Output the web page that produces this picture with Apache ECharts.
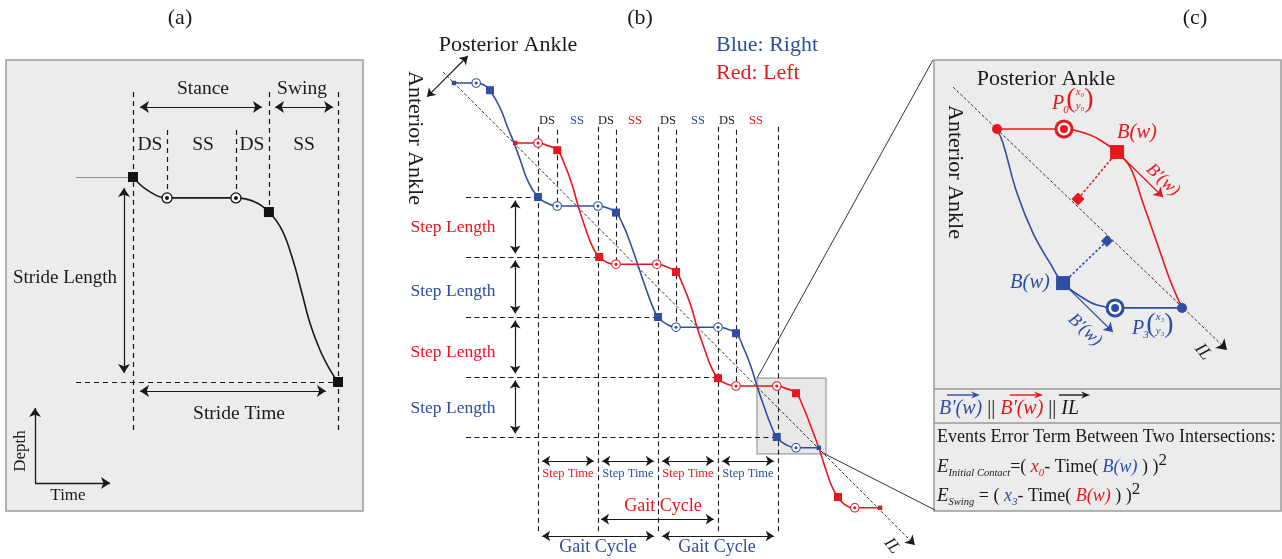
<!DOCTYPE html>
<html><head><meta charset="utf-8">
<script src="https://cdn.jsdelivr.net/npm/echarts@6/dist/echarts.min.js"></script>
<style>html,body{margin:0;background:#fff}#c{width:1282px;height:559px}</style>
</head><body><div id="c"></div>
<script>
// ================= DATA =================
// Panel (a): one stride, time in stride-time units, depth in stride-length units
const aCurve = [[0,0],[0.068,0.063],[0.166,0.102],[0.502,0.102],[0.595,0.122],[0.663,0.171],[0.727,0.259],[0.78,0.405],[0.824,0.566],[0.863,0.712],[0.912,0.844],[0.961,0.941],[1,1]];
const aSquares = [[0,0],[0.663,0.171],[1,1]];
const aCircles = [[0.166,0.102],[0.502,0.102]];
const aEventTimes = [0, 0.166, 0.502, 0.663, 1];
const aGuideTop = [-0.415, -0.229, -0.229, -0.415, -0.415];
const aGuideBottom = [1.244, 0.102, 0.102, 0.171, 1.244];

// Panel (b): both ankles, time in step units, depth in step-length units
const blueCurve = [[-1.40,-1.90],[-1.03,-1.90],[-0.89,-1.86],[-0.80,-1.78],[-0.63,-1.48],[-0.51,-1.17],[-0.40,-0.90],[-0.29,-0.60],[-0.17,-0.27],[0,0],[0.15,0.10],[0.32,0.15],[1.00,0.15],[1.15,0.18],[1.30,0.26],[1.42,0.47],[1.55,0.80],[1.66,1.12],[1.78,1.47],[1.90,1.80],[2.00,2.00],[2.13,2.11],[2.30,2.17],[3.00,2.17],[3.15,2.20],[3.30,2.27],[3.42,2.50],[3.55,2.83],[3.65,3.15],[3.77,3.50],[3.89,3.82],[3.98,4.00],[4.12,4.12],[4.30,4.18],[4.68,4.18]];
const redCurve = [[-0.38,-0.90],[0,-0.90],[0.15,-0.86],[0.32,-0.78],[0.44,-0.55],[0.57,-0.20],[0.67,0.15],[0.79,0.52],[0.91,0.83],[1.02,1.00],[1.15,1.09],[1.30,1.12],[1.98,1.12],[2.13,1.16],[2.30,1.25],[2.42,1.48],[2.55,1.82],[2.65,2.17],[2.77,2.52],[2.89,2.84],[3.00,3.02],[3.13,3.11],[3.30,3.15],[3.98,3.15],[4.13,3.19],[4.30,3.27],[4.42,3.50],[4.55,3.83],[4.68,4.18],[4.79,4.52],[4.90,4.83],[5.00,5.00],[5.12,5.13],[5.28,5.18],[5.70,5.18]];
const blueSquares = [[-0.80,-1.78],[0,0],[1.30,0.26],[2.00,2.00],[3.30,2.27],[3.98,4.00]];
const blueCircles = [[-1.03,-1.90],[0.32,0.15],[1.00,0.15],[2.30,2.17],[3.00,2.17],[4.30,4.18]];
const blueEnds = [[-1.40,-1.90],[4.68,4.18]];
const redSquares = [[0.32,-0.78],[1.02,1.00],[2.30,1.25],[3.00,3.02],[4.30,3.27],[5.00,5.00]];
const redCircles = [[0,-0.90],[1.30,1.12],[1.98,1.12],[3.30,3.15],[3.98,3.15],[5.28,5.18]];
const redEnds = [[-0.38,-0.90],[5.70,5.18]];
const stepEventTimes = [0, 1, 2, 3, 4];
const stepLevels = [0, 1, 2, 3, 4];
const stepLevelEnds = [0, 1.02, 2.0, 3.0, 3.98];
const singleSupportStart = [0.32, 1.30, 2.30, 3.30];
const singleSupportDepth = [0.15, 1.12, 2.17, 3.15];
const phaseLabels = ['DS','SS','DS','SS','DS','SS','DS','SS'];
const stepLengthLabels = ['Step Length','Step Length','Step Length','Step Length'];
const stepTimeLabels = ['Step Time','Step Time','Step Time','Step Time'];
const ilLine = [[-1.58,-2.08],[6.28,5.80]];
const zoomWindow = [[3.65,3.02],[4.80,4.28]];

// Panel (c): zoom on one intersection window (same units as b, magnified)
const cRed = [[3.65,3.15],[4.022,3.15],[4.167,3.183],[4.239,3.222],[4.317,3.278],[4.389,3.361],[4.461,3.561],[4.539,3.783],[4.611,3.989],[4.678,4.144]];
const cBlue = [[3.65,3.15],[3.683,3.228],[3.761,3.506],[3.85,3.728],[3.944,3.894],[4.017,4.006],[4.128,4.089],[4.206,4.128],[4.306,4.144],[4.678,4.144]];
const cRedDot = [[3.65,3.15]], cRedP0 = [[4.022,3.15]], cRedB = [[4.317,3.278]], cRedFoot = [[4.1,3.539]];
const cBlueDot = [[4.678,4.144]], cBlueP3 = [[4.306,4.144]], cBlueB = [[4.017,4.006]], cBlueFoot = [[4.261,3.772]];
const cRedTangent = [[4.317,3.278],[4.572,3.528]];
const cBlueTangent = [[4.017,4.006],[4.294,4.278]];
const cIL = [[3.406,2.917],[4.928,4.378]];

// ================= STYLE / HELPERS =================
const CB = '#2D4EA2', CR = '#E8161E', CK = '#1a1a1a';
const SERIF = '"Liberation Serif","Times New Roman",serif';
const segs = list => list.map(c => ({coords: c}));
function L(gi, list, color, width, type, sym, symSize, z) {
  return {type:'lines', coordinateSystem:'cartesian2d', xAxisIndex:gi, yAxisIndex:gi, silent:true, clip:false,
    data: segs(list), symbol: sym || 'none', symbolSize: symSize || 8, z: z || 2,
    lineStyle:{color: color, width: width, type: type || 'solid', opacity: 1, curveness: 0}};
}
function C(gi, data, color, width, sm) {
  return {type:'line', xAxisIndex:gi, yAxisIndex:gi, data: data, showSymbol:false, symbol:'none', silent:true,
    smooth: sm || 0.5, lineStyle:{color: color, width: width}, z: 3, animation:false};
}
function P(gi, data, symbol, size, color, z, border, bw) {
  return {type:'scatter', xAxisIndex:gi, yAxisIndex:gi, data: data, symbol: symbol, symbolSize: size, silent:true, z: z || 5,
    itemStyle:{color: color, borderColor: border || color, borderWidth: bw || 0, opacity:1}};
}
function ring(gi, data, color, outer, inner, bw) {
  return [P(gi, data, 'circle', outer, '#fff', 6, color, bw), P(gi, data, 'circle', inner, color, 7)];
}
function T(text, x, y, size, color, o) {
  o = o || {};
  return {type:'text', x:x, y:y, rotation: o.rot || 0, z:100,
    style:{text:text, x:0, y:0, fill: color || CK, font: (o.italic ? 'italic ' : '') + size + 'px ' + SERIF,
      align: o.align || 'center', verticalAlign: 'middle'}};
}
function vec(x1, x2, y, color) {
  return [{type:'line', z:100, shape:{x1:x1, y1:y, x2:x2-5, y2:y}, style:{stroke:color, lineWidth:1.4}},
          {type:'polygon', z:100, shape:{points:[[x2,y],[x2-9,y-3.5],[x2-6,y],[x2-9,y+3.5]]}, style:{fill:color}}];
}

// ---- guide geometry built from the data ----
const aGuides = aEventTimes.map((t,i) => [[t, aGuideTop[i]], [t, aGuideBottom[i]]]);
const bLongV = stepEventTimes.map(t => [[t,-1.17],[t,5.58]]);
const bShortV = singleSupportStart.map((t,i) => [[t,-1.12],[t,singleSupportDepth[i]]]);
const bH = stepLevels.map((d,i) => [[-1.2,d],[stepLevelEnds[i],d]]);
const bStepLenArrows = stepLevels.slice(0,4).map(d => [[-0.38,d+0.06],[-0.38,d+0.94]]);
const bStepTimeArrows = stepEventTimes.slice(0,4).map(t => [[t+0.07,4.4],[t+0.93,4.4]]);
const bGaitBlue = [[[0.07,5.65],[1.93,5.65]],[[2.07,5.65],[3.93,5.65]]];
const bGaitRed = [[[1.05,5.37],[2.93,5.37]]];
const connectors = [[[3.65,3.02],[6.583,-2.283]],[[4.75,4.267],[6.617,5.217]]];

const series = [
  // ----- (a)
  L(0, [[[-0.278,0],[0,0]]], '#777', 0.8),
  L(0, [[[-0.278,1],[1,1]]], CK, 1.2, [5,4]),
  L(0, aGuides, CK, 1.2, [5,4]),
  L(0, [[[0.034,-0.341],[0.629,-0.341]],[[0.693,-0.341],[0.976,-0.341]],[[-0.044,0.054],[-0.044,0.956]],[[0.034,1.044],[0.941,1.044]]], CK, 1.2, 'solid', ['arrow','arrow'], 9),
  L(0, [[[-0.478,1.493],[-0.478,1.127]],[[-0.478,1.493],[-0.112,1.493]]], CK, 1.3, 'solid', ['none','arrow'], 9),
  C(0, aCurve, CK, 1.6, 0.4),
  P(0, aSquares, 'rect', 10, '#111', 6),
  ...ring(0, aCircles, '#111', 10, 4, 1.3),
  // ----- (b)
  {type:'line', xAxisIndex:1, yAxisIndex:1, data:[], silent:true, z:1,
   markArea:{silent:true, itemStyle:{color:'#e8e8e8', borderColor:'#9a9a9a', borderWidth:1.2},
     data:[[{coord: zoomWindow[0]},{coord: zoomWindow[1]}]]}},
  L(1, bLongV, CK, 1.1, [5,3.5]),
  L(1, bShortV, CK, 1.1, [5,3.5]),
  L(1, bH, CK, 1.1, [5,3.5]),
  L(1, [ilLine], CK, 0.9, [3,2], ['none','arrow'], 9, 2),
  L(1, connectors, CK, 0.9),
  L(1, bStepLenArrows.concat(bStepTimeArrows, bGaitBlue, bGaitRed), CK, 1.2, 'solid', ['arrow','arrow'], 8),
  L(1, [[[-1.85,-1.67],[-1.17,-2.35]]], CK, 1.1, 'solid', ['arrow','arrow'], 8),
  C(1, blueCurve, CB, 1.6),
  C(1, redCurve, CR, 1.6),
  P(1, blueSquares, 'rect', 8, CB, 5),
  P(1, redSquares, 'rect', 8, CR, 5),
  P(1, blueEnds, 'rect', 4.5, CB, 5),
  P(1, redEnds, 'rect', 4.5, CR, 5),
  ...ring(1, blueCircles, CB, 8.5, 3, 1.1),
  ...ring(1, redCircles, CR, 8.5, 3, 1.1),
  // ----- (c)
  L(2, [cIL], CK, 0.9, [3,2], ['none','arrow'], 10),
  L(2, [[cRedB[0], cRedFoot[0]]], CR, 1.6, [2.5,2]),
  L(2, [[cBlueB[0], cBlueFoot[0]]], CB, 1.6, [2.5,2]),
  L(2, [cRedTangent], CR, 1.2, 'solid', ['none','arrow'], 9),
  L(2, [cBlueTangent], CB, 1.2, 'solid', ['none','arrow'], 9),
  C(2, cRed, CR, 1.6, 0.4),
  C(2, cBlue, CB, 1.6, 0.4),
  P(2, cRedDot, 'circle', 10, CR, 5),
  P(2, cBlueDot, 'circle', 10, CB, 5),
  P(2, cRedB, 'rect', 14, CR, 5),
  P(2, cBlueB, 'rect', 14, CB, 5),
  P(2, cRedFoot, 'diamond', 13, CR, 5),
  P(2, cBlueFoot, 'diamond', 12, CB, 5),
  P(2, cRedP0, 'circle', 19, CR, 5), P(2, cRedP0, 'circle', 13, '#fff', 6), P(2, cRedP0, 'circle', 8, CR, 7),
  P(2, cBlueP3, 'circle', 19, CB, 5), P(2, cBlueP3, 'circle', 13, '#fff', 6), P(2, cBlueP3, 'circle', 8, CB, 7)
];

// ---- texts ----
const g = [];
g.push(T('(a)', 180, 18, 22), T('(b)', 640, 18, 22), T('(c)', 1195, 18, 22));
// (a)
g.push(T('Stance', 203, 89, 19.5), T('Swing', 302, 89, 19.5));
[[150,'DS'],[203,'SS'],[252,'DS'],[304,'SS']].forEach(p => g.push(T(p[1], p[0], 145, 19.5)));
g.push(T('Stride Length', 65, 278, 19), T('Stride Time', 239, 414, 19.5));
g.push(T('Depth', 21, 451, 17, CK, {rot: Math.PI/2}), T('Time', 68, 496, 17));
// (b)
g.push(T('Posterior Ankle', 508, 45, 22), T('Anterior Ankle', 415, 138, 22, CK, {rot: -Math.PI/2}));
g.push(T('Blue: Right', 716, 45, 22, CB, {align:'left'}), T('Red: Left', 716, 73, 22, CR, {align:'left'}));
const phaseX = [547,577,606,635,668,698,727,756], phaseC = [CK,CB,CK,CR,CK,CB,CK,CR];
phaseLabels.forEach((s,i) => g.push(T(s, phaseX[i], 121, 12.5, phaseC[i])));
const slY = [227,291,352,408], slC = [CR,CB,CR,CB];
stepLengthLabels.forEach((s,i) => g.push(T(s, 453, slY[i], 17.5, slC[i])));
const stX = [568,628,688,748];
stepTimeLabels.forEach((s,i) => g.push(T(s, stX[i], 474, 12.5, slC[i])));
g.push(T('Gait Cycle', 663, 506, 18, CR), T('Gait Cycle', 598, 547, 18, CB), T('Gait Cycle', 717, 547, 18, CB));
g.push(T('IL', 892, 546, 17, CK, {italic:true, rot:-0.9}));
// (c)
g.push(T('Posterior Ankle', 1046, 79, 22), T('Anterior Ankle', 955, 172, 22, CK, {rot: -Math.PI/2}));
g.push(T('B(w)', 1137, 133, 20.5, CR, {italic:true}), T("B'(w)", 1163, 180, 18, CR, {italic:true, rot:-0.75}));
g.push(T('B(w)', 1030, 283, 20.5, CB, {italic:true}), T("B'(w)", 1085, 330, 18, CB, {italic:true, rot:-0.75}));
g.push(T('IL', 1203, 352, 18, CK, {italic:true, rot:-0.9}));
g.push(T('P', 1058, 104, 20, CR, {italic:true}), T('0', 1066, 110, 11, CR, {italic:true}),
       T('(', 1071, 100, 28, CR), T('x₀', 1080, 92, 11, CR, {italic:true}), T('y₀', 1080, 106, 11, CR, {italic:true}), T(')', 1089, 100, 28, CR));
g.push(T('P', 1138, 329, 20, CB, {italic:true}), T('3', 1146, 335, 11, CB, {italic:true}),
       T('(', 1151, 325, 28, CB), T('x₃', 1160, 317, 11, CB, {italic:true}), T('y₃', 1160, 331, 11, CB, {italic:true}), T(')', 1169, 325, 28, CB));
// (c) lower text boxes
g.push({type:'line', z:99, shape:{x1:934, y1:389, x2:1281, y2:389}, style:{stroke:'#9a9a9a', lineWidth:1.5}});
g.push({type:'line', z:99, shape:{x1:934, y1:423, x2:1281, y2:423}, style:{stroke:'#9a9a9a', lineWidth:1.5}});
const rich = {
  B1:{fill:CB, fontStyle:'italic', fontSize:20, fontFamily:SERIF},
  R1:{fill:CR, fontStyle:'italic', fontSize:20, fontFamily:SERIF},
  K1:{fill:CK, fontStyle:'italic', fontSize:20, fontFamily:SERIF},
  T1:{fill:CK, fontSize:20, fontFamily:SERIF},
  bb:{fill:CB, fontStyle:'italic', fontSize:18, fontFamily:SERIF},
  br:{fill:CR, fontStyle:'italic', fontSize:18, fontFamily:SERIF},
  k:{fill:CK, fontStyle:'italic', fontSize:19, fontFamily:SERIF},
  t:{fill:CK, fontSize:18, fontFamily:SERIF},
  sub:{fill:CK, fontStyle:'italic', fontSize:10.5, fontFamily:SERIF, padding:[12,0,0,0]},
  subr:{fill:CR, fontStyle:'italic', fontSize:11, fontFamily:SERIF, padding:[12,0,0,0]},
  subb:{fill:CB, fontStyle:'italic', fontSize:11, fontFamily:SERIF, padding:[12,0,0,0]},
  sup:{fill:CK, fontSize:17, fontFamily:SERIF, padding:[0,0,12,0]}
};
function R(text, x, y) { return {type:'text', x:x, y:y, z:100, style:{text:text, x:0, y:0, rich:rich, align:'left', verticalAlign:'middle', font:'19px '+SERIF}}; }
g.push(R("{B1|B'(w)}{T1| || }{R1|B'(w)}{T1| || }{K1|IL}", 939, 409));
g.push(...vec(947, 980, 395, CB), ...vec(1010, 1043, 395, CR), ...vec(1059, 1090, 395, CK));
g.push(T('Events Error Term Between Two Intersections:', 937, 437, 18, CK, {align:'left'}));
g.push(R('{k|E}{sub|Initial Contact}{t|=( }{br|x}{subr|0}{t|- Time( }{bb|B(w)}{t| ) )}{sup|2}', 937, 467));
g.push(R('{k|E}{sub|Swing}{t| = ( }{bb|x}{subb|3}{t|- Time( }{br|B(w)}{t| ) )}{sup|2}', 937, 496));

const chart = echarts.init(document.getElementById('c'), null, {renderer:'canvas'});
chart.setOption({
  animation:false,
  backgroundColor:'#fff',
  grid:[
    {left:6, top:60, width:357, height:451, show:true, backgroundColor:'#ececec', borderColor:'#9a9a9a', borderWidth:1.5},
    {left:388, top:17, width:540, height:540, show:false},
    {left:934, top:60, width:347, height:451, show:true, backgroundColor:'#ececec', borderColor:'#9a9a9a', borderWidth:1.5}
  ],
  xAxis:[
    {type:'value', gridIndex:0, min:-0.61951, max:1.12195, show:false},
    {type:'value', gridIndex:1, min:-2.5, max:6.5, show:false},
    {type:'value', gridIndex:2, min:3.3, max:5.22778, show:false}
  ],
  yAxis:[
    {type:'value', gridIndex:0, min:-0.57073, max:1.62927, inverse:true, show:false},
    {type:'value', gridIndex:1, min:-3, max:6, inverse:true, show:false},
    {type:'value', gridIndex:2, min:2.76667, max:5.27222, inverse:true, show:false}
  ],
  series: series,
  graphic: {elements: g}
});
</script>
</body></html>
